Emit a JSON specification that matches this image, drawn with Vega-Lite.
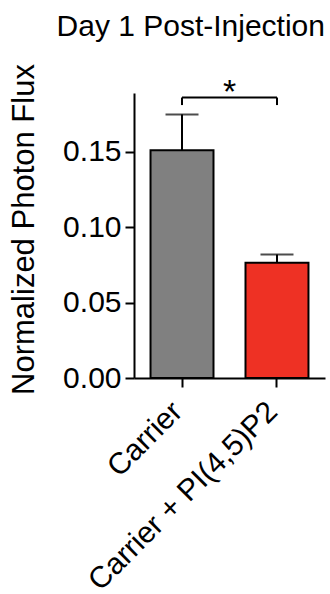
{
  "$schema": "https://vega.github.io/schema/vega-lite/v6.json",
  "width": 191,
  "height": 285,
  "autosize": "none",
  "padding": {"left": 134, "top": 93, "right": 5, "bottom": 216},
  "background": "white",
  "title": {
    "text": "Day 1 Post-Injection",
    "anchor": "end",
    "frame": "group",
    "font": "Liberation Sans",
    "fontSize": 30,
    "fontWeight": "normal",
    "color": "black",
    "baseline": "alphabetic",
    "offset": -2
  },
  "config": {
    "view": {"stroke": null},
    "axis": {
      "domainColor": "black",
      "domainWidth": 2,
      "tickColor": "black",
      "tickWidth": 2,
      "tickSize": 9,
      "grid": false,
      "labelFont": "Liberation Sans",
      "labelFontSize": 30,
      "labelColor": "black",
      "labelLimit": 0,
      "titleFont": "Liberation Sans",
      "titleFontSize": 31,
      "titleFontWeight": "normal",
      "titleColor": "black"
    }
  },
  "datasets": {
    "bars": [
      {"group": "Carrier", "mean": 0.151, "upper": 0.1748},
      {"group": "Carrier + PI(4,5)P2", "mean": 0.0764, "upper": 0.0819}
    ],
    "bracket": [
      {"from": "Carrier", "to": "Carrier + PI(4,5)P2", "y": 0.186}
    ],
    "bracketEnds": [
      {"group": "Carrier", "low": 0.181, "high": 0.186},
      {"group": "Carrier + PI(4,5)P2", "low": 0.181, "high": 0.186}
    ],
    "sig": [
      {"label": "*", "y": 0.1825}
    ]
  },
  "layer": [
    {
      "data": {"name": "bars"},
      "mark": {"type": "bar", "stroke": "black", "strokeWidth": 2},
      "encoding": {
        "x": {
          "field": "group",
          "type": "nominal",
          "sort": null,
          "scale": {"paddingInner": 0.337, "paddingOuter": 0.174},
          "axis": {"title": null, "labelAngle": -45, "labelPadding": 9, "labelOffset": -15}
        },
        "y": {
          "field": "mean",
          "type": "quantitative",
          "scale": {"domain": [0, 0.189], "nice": false, "zero": true},
          "axis": {
            "values": [0, 0.05, 0.1, 0.15],
            "format": ".2f",
            "title": "Normalized Photon Flux",
            "labelPadding": 4,
            "titlePadding": 22,
            "titleY": 136
          }
        },
        "color": {
          "field": "group",
          "type": "nominal",
          "scale": {"domain": ["Carrier", "Carrier + PI(4,5)P2"], "range": ["#808080", "#EE3124"]},
          "legend": null
        }
      }
    },
    {
      "data": {"name": "bars"},
      "mark": {"type": "rule", "color": "black", "strokeWidth": 2},
      "encoding": {
        "x": {"field": "group", "type": "nominal", "sort": null},
        "y": {"field": "mean", "type": "quantitative"},
        "y2": {"field": "upper"}
      }
    },
    {
      "data": {"name": "bars"},
      "mark": {"type": "tick", "color": "black", "thickness": 2, "size": 33, "orient": "horizontal"},
      "encoding": {
        "x": {"field": "group", "type": "nominal", "sort": null},
        "y": {"field": "upper", "type": "quantitative"}
      }
    },
    {
      "data": {"name": "bracket"},
      "mark": {"type": "rule", "color": "black", "strokeWidth": 2},
      "encoding": {
        "x": {"field": "from", "type": "nominal", "bandPosition": 0.5},
        "x2": {"field": "to", "bandPosition": 0.5},
        "y": {"field": "y", "type": "quantitative"}
      }
    },
    {
      "data": {"name": "bracketEnds"},
      "mark": {"type": "rule", "color": "black", "strokeWidth": 2},
      "encoding": {
        "x": {"field": "group", "type": "nominal", "sort": null},
        "y": {"field": "low", "type": "quantitative"},
        "y2": {"field": "high"}
      }
    },
    {
      "data": {"name": "sig"},
      "mark": {"type": "text", "font": "Liberation Sans", "fontSize": 34, "color": "black", "baseline": "alphabetic", "align": "center"},
      "encoding": {
        "y": {"field": "y", "type": "quantitative"},
        "text": {"field": "label"}
      }
    }
  ]
}
